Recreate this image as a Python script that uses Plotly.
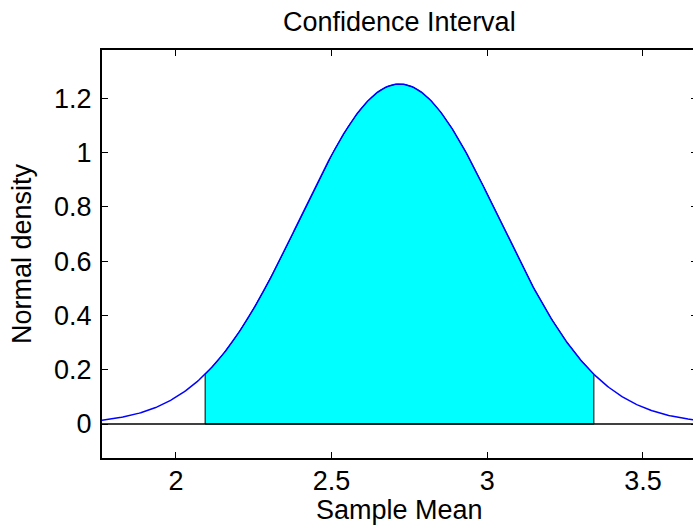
import numpy as np
import plotly.graph_objects as go

# Sampling distribution of the mean and its 95% confidence interval
mu = 2.718          # sample mean
sigma = 0.3185      # standard error
z = 1.96            # two-sided 95% critical value
ci_low = mu - z * sigma
ci_high = mu + z * sigma

x_lo, x_hi = mu - 3 * sigma, mu + 3 * sigma
peak = 1.0 / (sigma * np.sqrt(2 * np.pi))

xs = np.linspace(x_lo, x_hi, 400)
pdf = peak * np.exp(-0.5 * ((xs - mu) / sigma) ** 2)

xs_ci = np.linspace(ci_low, ci_high, 300)
pdf_ci = peak * np.exp(-0.5 * ((xs_ci - mu) / sigma) ** 2)

x_ticks = [2, 2.5, 3, 3.5]
y_ticks = [0, 0.2, 0.4, 0.6, 0.8, 1, 1.2]

FONT = "Liberation Sans, Arial, Helvetica, sans-serif"
fs = 27

fig = go.Figure()

# shaded interval
fig.add_trace(go.Scatter(
    x=np.concatenate([[ci_low], xs_ci, [ci_high], [ci_low]]),
    y=np.concatenate([[0], pdf_ci, [0], [0]]),
    fill="toself", fillcolor="#00FFFF", mode="lines",
    line=dict(color="black", width=1), hoverinfo="skip", showlegend=False,
))
# baseline
fig.add_trace(go.Scatter(
    x=[x_lo, x_hi], y=[0, 0], mode="lines",
    line=dict(color="black", width=1.3), showlegend=False,
))
# density curve
fig.add_trace(go.Scatter(
    x=xs, y=pdf, mode="lines",
    line=dict(color="#0000FF", width=1.5), showlegend=False,
))
# carrier for the right-hand tick marks
fig.add_trace(go.Scatter(x=[x_lo], y=[0], yaxis="y2", mode="markers",
                         marker=dict(opacity=0), showlegend=False, hoverinfo="skip"))

W, H = 693, 532
L, T, B = 102, 50, 74
plot_w = W - L
px_per_unit = (697 - L) / (x_hi - x_lo)
x_vis_hi = x_lo + plot_w / px_per_unit

y_range = [-0.1 * peak, 1.1 * peak]

fig.update_layout(
    width=W, height=H,
    margin=dict(l=L, r=0, t=T, b=B),
    paper_bgcolor="white", plot_bgcolor="white",
    font=dict(family=FONT, size=fs, color="black"),
    xaxis=dict(
        range=[x_lo, x_vis_hi], tickvals=x_ticks, ticktext=[str(v) for v in x_ticks],
        ticks="inside", ticklen=6, tickwidth=1, tickcolor="black",
        showline=True, linewidth=2, linecolor="black", mirror="ticks",
        showgrid=False, zeroline=False, ticklabelstandoff=-2,
        tickfont=dict(family=FONT, size=fs),
    ),
    yaxis=dict(
        range=y_range, tickvals=y_ticks, ticktext=[f"{v:g}" for v in y_ticks],
        ticks="inside", ticklen=6, tickwidth=1, tickcolor="black",
        showline=True, linewidth=2, linecolor="black", mirror=False,
        showgrid=False, zeroline=False, ticklabelstandoff=3,
        tickfont=dict(family=FONT, size=fs),
    ),
    yaxis2=dict(
        overlaying="y", side="right", range=y_range, tickvals=y_ticks,
        showticklabels=False, ticks="inside", ticklen=2, tickwidth=1,
        tickcolor="black", showline=False, showgrid=False, zeroline=False,
    ),
    annotations=[
        dict(text="Confidence Interval", xref="paper", yref="paper",
             x=0.5, y=1, xanchor="center", yanchor="middle",
             xshift=2, yshift=28, showarrow=False, font=dict(family=FONT, size=fs)),
        dict(text="Sample Mean", xref="paper", yref="paper",
             x=0.5, y=0, xanchor="center", yanchor="middle",
             xshift=2, yshift=-52, showarrow=False, font=dict(family=FONT, size=fs)),
        dict(text="Normal density", xref="paper", yref="paper",
             x=0, y=0.5, xanchor="center", yanchor="middle", textangle=-90,
             xshift=-80, showarrow=False, font=dict(family=FONT, size=fs)),
    ],
)

fig.write_html("out.html")
